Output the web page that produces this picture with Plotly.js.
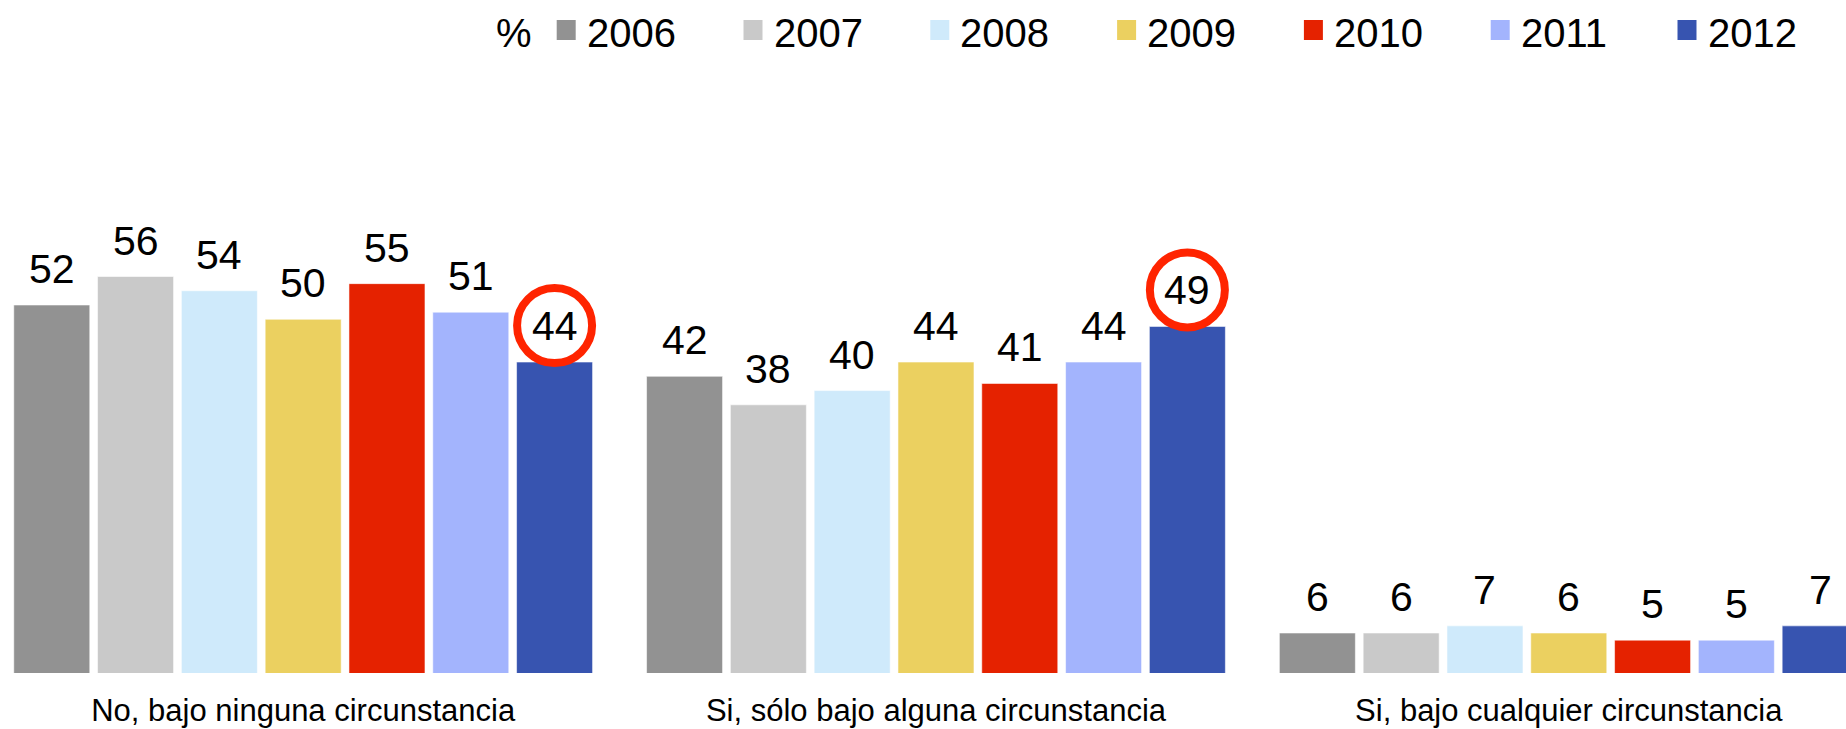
<!DOCTYPE html>
<html><head><meta charset="utf-8">
<script src="https://cdn.plot.ly/plotly-3.0.1.min.js"></script>
<style>html,body{margin:0;padding:0;background:#fff;overflow:hidden}#chart{width:1846px;height:729px}</style>
</head><body><div id="chart"></div>
<script>
const categories = ["No, bajo ninguna circunstancia", "Si, sólo bajo alguna circunstancia", "Si, bajo cualquier circunstancia"];
const years = ["2006", "2007", "2008", "2009", "2010", "2011", "2012"];
const v2006 = [52, 42, 6];
const v2007 = [56, 38, 6];
const v2008 = [54, 40, 7];
const v2009 = [50, 44, 6];
const v2010 = [55, 41, 5];
const v2011 = [51, 44, 5];
const v2012 = [44, 49, 7];
const legendPrefix = "%";
// highlighted points: [category index, year index]
const highlighted = [[0, 6], [1, 6]];

const series = [v2006, v2007, v2008, v2009, v2010, v2011, v2012];
const colors = ["#929292", "#c9c9c9", "#cfeafb", "#ebd060", "#e52200", "#a3b4fd", "#3754b0"];

const W = 1846, H = 729;
const M = {l: 0, r: 0, t: 100, b: 56};
const plotH = H - M.t - M.b;
const bargap = 0.073, bargroupgap = 0.093;
const slot = (1 - bargap) / years.length;
const FONT = '"Liberation Sans", Arial, Helvetica, sans-serif';

const px2paperX = p => (p - M.l) / (W - M.l - M.r);
const px2paperY = p => (H - M.b - p) / plotH;

const traces = series.map((vals, i) => ({
  type: 'bar',
  name: years[i],
  x: categories,
  y: vals,
  marker: {color: colors[i], line: {color: 'rgba(255,255,255,0.55)', width: 1}},
  hoverinfo: 'skip'
}));

const annotations = [];
const shapes = [];
series.forEach((vals, i) => {
  vals.forEach((v, c) => {
    annotations.push({
      xref: 'x', yref: 'y', x: c + (i - (years.length - 1) / 2) * slot, y: v,
      text: String(v), showarrow: false, xanchor: 'center', yanchor: 'bottom', yshift: 11,
      font: {family: FONT, size: 41, color: '#000'}
    });
  });
});
highlighted.forEach(([c, i]) => {
  shapes.push({
    type: 'circle', xref: 'x', yref: 'y', xsizemode: 'pixel', ysizemode: 'pixel',
    xanchor: c + (i - (years.length - 1) / 2) * slot, yanchor: series[i][c],
    x0: -37.5, x1: 37.5, y0: -1, y1: 74,
    line: {color: '#ff2400', width: 8}, fillcolor: 'rgba(0,0,0,0)'
  });
});

// custom legend
const legY = 57.5;
annotations.push({
  xref: 'paper', yref: 'paper', x: px2paperX(494), y: px2paperY(legY),
  text: legendPrefix, showarrow: false, xanchor: 'left', yanchor: 'bottom',
  font: {family: FONT, size: 40, color: '#000'}
});
years.forEach((yr, k) => {
  const sx = 556.7 + k * 186.8;
  shapes.push({
    type: 'rect', xref: 'paper', yref: 'paper',
    x0: px2paperX(sx), x1: px2paperX(sx + 19), y0: px2paperY(40), y1: px2paperY(20),
    line: {width: 0}, fillcolor: colors[k]
  });
  annotations.push({
    xref: 'paper', yref: 'paper', x: px2paperX(sx + 28), y: px2paperY(legY),
    text: yr, showarrow: false, xanchor: 'left', yanchor: 'bottom',
    font: {family: FONT, size: 40, color: '#000'}
  });
});

const layout = {
  width: W, height: H, margin: M,
  paper_bgcolor: '#fff', plot_bgcolor: '#fff',
  barmode: 'group', bargap: bargap, bargroupgap: bargroupgap,
  showlegend: false,
  xaxis: {type: 'category', range: [-0.4791, 2.4381], showgrid: false, zeroline: false, showline: false,
          ticks: '', ticklabelstandoff: 16, tickfont: {family: FONT, size: 31, color: '#000'}, fixedrange: true},
  yaxis: {range: [0.39, 0.39 + plotH / 7.13], visible: false, showgrid: false, zeroline: false, fixedrange: true},
  annotations: annotations,
  shapes: shapes,
  font: {family: FONT}
};

Plotly.newPlot('chart', traces, layout, {displayModeBar: false, staticPlot: true});
</script>
</body></html>
